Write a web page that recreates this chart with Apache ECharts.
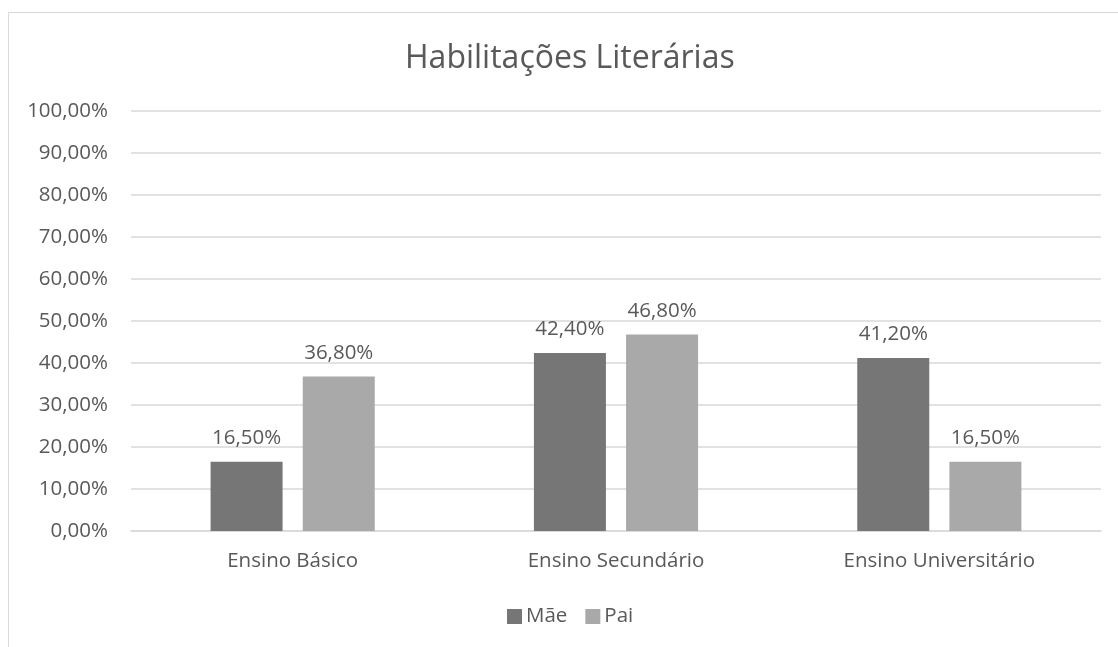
<!DOCTYPE html>
<html>
<head>
<meta charset="utf-8">
<script src="https://cdn.jsdelivr.net/npm/echarts@6/dist/echarts.min.js"></script>
<style>
html,body{margin:0;padding:0;background:#fff;}
#c{width:1118px;height:647px;}
</style>
</head>
<body>
<div id="c"></div>
<script>
const categories = ['Ensino Básico', 'Ensino Secundário', 'Ensino Universitário'];
const mae = [16.5, 42.4, 41.2];
const pai = [36.8, 46.8, 16.5];
const seriesNames = ['Mãe', 'Pai'];

const fmt = v => v.toFixed(2).replace('.', ',') + '%';
const FONT = 'Open Sans';
const TXT = '#595959';
const FS = 20.5;

const chart = echarts.init(document.getElementById('c'), null, {renderer: 'canvas'});
chart.setOption({
  animation: false,
  backgroundColor: '#fff',
  title: {
    text: 'Habilitações Literárias',
    left: 400,
    top: 38,
    textStyle: {fontFamily: FONT, fontSize: 32, fontWeight: 'normal', color: TXT}
  },
  graphic: [{
    type: 'rect',
    shape: {x: 8.5, y: 12.5, width: 1200, height: 700},
    style: {fill: 'none', stroke: '#d9d9d9', lineWidth: 1},
    silent: true
  }],
  legend: {
    data: seriesNames,
    top: 601,
    left: 502,
    itemWidth: 15,
    itemHeight: 15,
    itemGap: 18,
    icon: 'rect',
    textStyle: {fontFamily: FONT, fontSize: FS, color: TXT, padding: [0, 0, 0, -1]}
  },
  grid: {left: 131, right: 17, top: 111, bottom: 116, containLabel: false},
  xAxis: {
    type: 'category',
    data: categories,
    axisLine: {lineStyle: {color: '#d9d9d9', width: 1.5}},
    axisTick: {show: false},
    axisLabel: {fontFamily: FONT, fontSize: FS, color: TXT, margin: 20}
  },
  yAxis: {
    type: 'value',
    min: 0,
    max: 100,
    interval: 10,
    axisLine: {show: false},
    axisTick: {show: false},
    splitLine: {lineStyle: {color: '#d9d9d9', width: 1.5}},
    axisLabel: {fontFamily: FONT, fontSize: FS, color: TXT, margin: 23, formatter: fmt}
  },
  series: [
    {
      name: seriesNames[0], type: 'bar', data: mae,
      barWidth: 72, barGap: '28%',
      itemStyle: {color: '#767676'},
      label: {show: true, position: 'top', distance: 13, formatter: p => fmt(p.value),
        fontFamily: FONT, fontSize: FS, color: TXT}
    },
    {
      name: seriesNames[1], type: 'bar', data: pai,
      barWidth: 72, barGap: '28%',
      itemStyle: {color: '#a9a9a9'},
      label: {show: true, position: 'top', distance: 13, formatter: p => fmt(p.value),
        fontFamily: FONT, fontSize: FS, color: TXT}
    }
  ]
});
</script>
</body>
</html>
